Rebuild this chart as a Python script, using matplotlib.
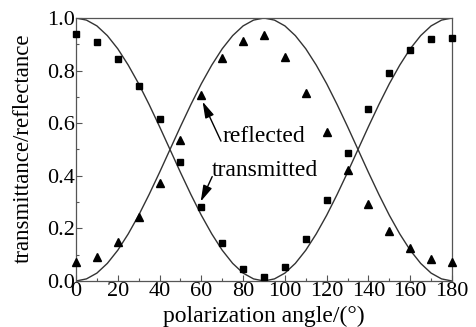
import matplotlib
matplotlib.use('Agg')
import matplotlib.pyplot as plt
from matplotlib.ticker import MultipleLocator

# measured points
angle = [0, 10, 20, 30, 40, 50, 60, 70, 80, 90, 100, 110, 120, 130, 140, 150, 160, 170, 180]
transmitted = [0.938, 0.910, 0.844, 0.741, 0.615, 0.451, 0.280, 0.146, 0.046, 0.016,
               0.054, 0.158, 0.308, 0.488, 0.654, 0.790, 0.877, 0.920, 0.923]
reflected = [0.073, 0.092, 0.149, 0.245, 0.371, 0.536, 0.707, 0.847, 0.914, 0.935,
             0.853, 0.716, 0.568, 0.422, 0.292, 0.190, 0.124, 0.084, 0.073]

# theory curves every 5 degrees
curve_angle = [0, 5, 10, 15, 20, 25, 30, 35, 40, 45, 50, 55, 60, 65, 70, 75, 80, 85, 90,
               95, 100, 105, 110, 115, 120, 125, 130, 135, 140, 145, 150, 155, 160, 165, 170, 175, 180]
curve_trans = [1.000, 0.992, 0.970, 0.933, 0.883, 0.821, 0.750, 0.671, 0.587, 0.500,
               0.413, 0.329, 0.250, 0.179, 0.117, 0.067, 0.030, 0.008, 0.000,
               0.008, 0.030, 0.067, 0.117, 0.179, 0.250, 0.329, 0.413, 0.500,
               0.587, 0.671, 0.750, 0.821, 0.883, 0.933, 0.970, 0.992, 1.000]
curve_refl = [0.000, 0.008, 0.030, 0.067, 0.117, 0.179, 0.250, 0.329, 0.413, 0.500,
              0.587, 0.671, 0.750, 0.821, 0.883, 0.933, 0.970, 0.992, 1.000,
              0.992, 0.970, 0.933, 0.883, 0.821, 0.750, 0.671, 0.587, 0.500,
              0.413, 0.329, 0.250, 0.179, 0.117, 0.067, 0.030, 0.008, 0.000]

plt.rcParams['font.family'] = ['Liberation Serif', 'DejaVu Serif']

fig = plt.figure(figsize=(4.76, 3.27), dpi=100)
ax = fig.add_axes([76/476., 1 - 281/327., (452-76)/476., (281-18)/327.])

ax.plot(curve_angle, curve_trans, color='#333333', lw=1.0)
ax.plot(curve_angle, curve_refl, color='#333333', lw=1.0)
ax.plot(angle, transmitted, 's', color='black', ms=5, clip_on=False, zorder=3)
ax.plot(angle, reflected, '^', color='black', ms=5.5, clip_on=False, zorder=3)

ax.set_xlim(0, 180)
ax.set_ylim(0, 1.0)
ax.xaxis.set_major_locator(MultipleLocator(20))
ax.xaxis.set_minor_locator(MultipleLocator(10))
ax.yaxis.set_major_locator(MultipleLocator(0.2))
ax.yaxis.set_minor_locator(MultipleLocator(0.1))
ax.yaxis.set_major_formatter(plt.FormatStrFormatter('%.1f'))
ax.tick_params(which='both', direction='in', top=False, right=False, labelsize=16, pad=1)
ax.tick_params(which='major', length=4, width=0.8, color='#555555')
ax.tick_params(which='minor', length=2.5, width=0.8, color='#555555')
for sp in ax.spines.values():
    sp.set_color('#555555')
    sp.set_linewidth(0.9)

ax.set_xlabel('polarization angle/(°)', fontsize=17)
ax.set_ylabel('transmittance/reflectance', fontsize=16.5)
ax.xaxis.set_label_coords(0.499, -0.093)
ax.yaxis.set_label_coords(-0.113, 0.506)

# labels with arrows pointing at the 60 degree points
arrow = dict(arrowstyle='-|>,head_length=0.7,head_width=0.2', color='black', lw=1.0,
             shrinkA=0, shrinkB=0, mutation_scale=14)
ax.text(70.2, 0.548, 'reflected', fontsize=17, va='center', ha='left')
ax.annotate('', xy=(60.6, 0.682), xytext=(69.4, 0.532), arrowprops=arrow)
ax.text(65.0, 0.419, 'transmitted', fontsize=17, va='center', ha='left')
ax.annotate('', xy=(59.7, 0.302), xytext=(65.2, 0.397), arrowprops=arrow)

plt.savefig('out.png', dpi=100)
plt.close()
